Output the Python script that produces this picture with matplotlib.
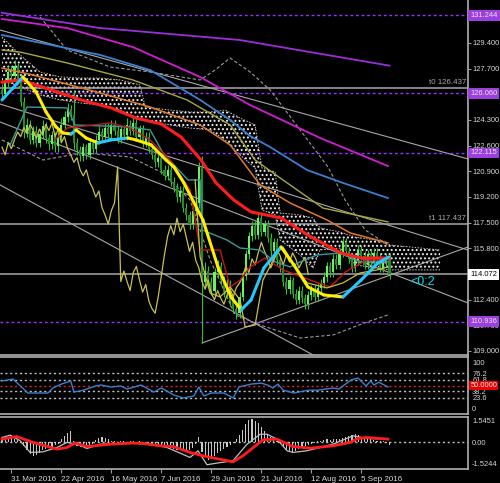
import numpy as np
import matplotlib
matplotlib.use('Agg')
import matplotlib.pyplot as plt
import matplotlib.transforms as mtransforms

plt.rcParams['font.family'] = ['Liberation Sans', 'DejaVu Sans']
plt.rcParams['hatch.color'] = '#f0f0f0'
plt.rcParams['hatch.linewidth'] = 0.9

# daily EURJPY candles (bar index 0..124), open = previous close
first_open = 126.3
close = [126.0, 126.8, 127.5, 127.2, 127.9, 127.0,
         125.5, 123.5, 124.0, 123.0,
         123.6, 122.8, 123.4, 123.9, 123.1, 122.7, 123.3, 122.6, 123.2, 124.0,
         124.5, 125.0, 124.6,
         122.8,
         122.3, 121.9, 122.5, 122.0, 122.8, 122.4, 123.0,
         123.5, 123.2, 123.8, 123.4, 124.0, 123.6, 123.1, 123.7, 123.3, 124.0,
         123.6, 124.1, 123.2, 123.7, 122.8, 123.2, 122.4,
         122.0, 121.5, 121.8, 121.0, 120.6, 121.0, 120.2,
         119.8, 119.2, 119.6, 118.5, 118.0, 117.4, 118.3, 118.8,
         121.2, 113.6,
         114.3, 113.6, 113.0, 114.2, 114.6, 113.7, 112.9, 113.4, 112.3, 111.8, 111.5,
         112.6, 114.0, 115.4,
         116.6, 117.3, 116.7, 117.8, 116.9, 117.4, 116.5,
         115.6, 116.2, 115.0, 114.5,
         113.6, 113.1, 113.7, 112.8, 112.4, 113.0, 112.5, 112.1, 112.7, 113.1, 112.6, 113.2, 113.5,
         113.9, 114.6, 114.2, 115.1, 114.7, 115.5, 116.2, 115.6,
         115.1, 114.5, 115.0, 115.7, 115.3, 114.7, 115.4, 114.9, 115.5, 115.1, 114.5, 114.9, 115.2, 114.072]
high = [126.7, 127.1, 127.9, 127.8, 128.3, 128.1,
        127.3, 125.8, 124.4, 124.3,
        123.9, 123.9, 123.7, 124.3, 124.2, 123.4, 123.6, 123.5, 123.5, 124.4,
        124.9, 125.4, 125.3,
        126.3,
        123.1, 122.6, 122.8, 122.7, 123.1, 123.0, 123.3,
        123.9, 123.8, 124.1, 124.1, 124.3, 124.3, 123.9, 124.0, 124.0, 124.4,
        124.3, 124.5, 124.4, 124.0, 124.0, 123.5, 123.5,
        122.7, 122.3, 122.1, 122.1, 121.3, 121.3, 121.3,
        120.5, 120.1, 119.9, 119.9, 118.8, 118.3, 118.6, 119.1,
        121.5, 121.9,
        114.9, 114.6, 113.9, 114.5, 115.0, 114.9, 114.0, 113.8, 113.7, 112.7, 112.1,
        112.9, 114.3, 115.7,
        116.9, 117.6, 117.6, 118.1, 118.2, 117.7, 117.7,
        116.8, 116.5, 116.5, 115.3,
        114.8, 113.9, 114.0, 113.9, 113.1, 113.3, 113.3, 112.8, 113.0, 113.4, 113.4, 113.5, 113.8,
        114.2, 114.9, 114.9, 115.4, 115.4, 115.8, 116.5, 116.5,
        115.9, 115.4, 115.3, 116.0, 116.0, 115.6, 115.7, 115.7, 115.8, 115.8, 115.4, 115.2, 115.5, 115.4]
low = [125.7, 125.8, 126.5, 126.9, 126.9, 126.7,
       125.2, 123.1, 123.2, 122.7,
       122.7, 122.5, 122.5, 123.1, 122.8, 122.3, 122.4, 122.2, 122.2, 122.9,
       123.7, 124.2, 124.3,
       122.4,
       122.0, 121.6, 121.6, 121.7, 121.7, 122.1, 122.1,
       122.7, 122.9, 122.9, 123.1, 123.1, 123.3, 122.8, 122.8, 123.0, 123.0,
       123.3, 123.3, 122.9, 122.9, 122.5, 122.5, 122.1,
       121.7, 121.2, 121.2, 120.7, 120.3, 120.3, 119.9,
       119.5, 118.9, 118.9, 118.2, 117.7, 117.1, 117.1, 118.0,
       118.5, 109.5,
       113.2, 113.3, 112.7, 112.7, 113.9, 113.4, 112.6, 112.6, 112.0, 111.5, 111.1,
       111.2, 112.3, 113.7,
       115.1, 116.3, 116.4, 116.4, 116.6, 116.6, 116.2,
       115.3, 115.3, 114.7, 114.2,
       113.3, 112.8, 112.8, 112.5, 112.1, 112.1, 112.2, 111.8, 111.8, 112.4, 112.3, 112.3, 112.9,
       113.2, 113.6, 113.9, 113.9, 114.4, 114.4, 115.2, 115.3,
       114.8, 114.2, 114.2, 114.7, 115.0, 114.4, 114.4, 114.6, 114.6, 114.8, 114.2, 114.2, 114.6, 113.8]

date_pos = [3, 19, 35, 51, 67, 83, 99, 115]
date_lbl = ['31 Mar 2016', '22 Apr 2016', '16 May 2016', '7 Jun 2016',
            '29 Jun 2016', '21 Jul 2016', '12 Aug 2016', '5 Sep 2016']

# indicator lines as (bar, price) vertices
purple_x = [0, 31, 76, 124]
purple_y = [131.4, 130.4, 129.6, 127.9]
magenta_x = [0, 20.8, 41.9, 63.4, 79.4, 101.8, 123.5]
magenta_y = [130.99, 130.39, 129.13, 127.15, 125.29, 123.11, 121.25]
blue_x = [0, 31.4, 47.4, 63.4, 73, 79.4, 85.8, 97.6, 109.1, 123.5]
blue_y = [129.93, 128.61, 127.61, 125.63, 124.30, 123.24, 122.51, 120.99, 120.13, 119.13]
olive_x = [0, 5.8, 20.8, 41.9, 59.2, 73, 81, 89, 102.7, 123.5]
olive_y = [128.94, 128.80, 128.08, 126.95, 125.63, 123.97, 121.65, 120.46, 118.47, 117.55]
orange_x = [0, 9.9, 31.4, 47.4, 63.4, 73, 82.6, 92.2, 104, 111.4, 123.5]
orange_y = [127.74, 127.28, 126.09, 125.16, 123.97, 122.65, 120.00, 118.80, 117.68, 116.82, 116.16]
red_x = [0, 6.1, 15.7, 25.3, 34.9, 42.9, 50.9, 57.3, 63.7, 68.5, 74.2, 79.7, 89.3, 98.9, 108.5, 114.9, 123.8]
red_y = [126.82, 126.95, 126.29, 125.63, 125.10, 124.43, 124.04, 123.17, 121.65, 120.13, 119.00,
         118.21, 117.81, 116.55, 115.49, 115.16, 115.16]
fast_x = [0, 3.5, 6.7, 10.9, 14.1, 17.3, 19.5, 22.1, 23.7, 26.9, 30.7, 34.9, 40.3, 42.9, 47.7,
          52.5, 55.0, 58.2, 64.3, 69.1, 73.3, 76.5, 79.7, 83.8, 89.3, 93.4, 97.9, 103.0, 109.1,
          114.9, 120.3, 123.8]
fast_y = [125.63, 126.42, 127.15, 126.16, 124.83, 123.84, 123.44, 123.37, 123.64, 123.11, 122.78,
          122.98, 123.11, 122.98, 122.65, 121.65, 121.19, 120.13, 117.68, 114.57, 112.58, 111.72,
          112.38, 114.50, 115.89, 114.70, 113.24, 112.71, 112.58, 113.70, 114.83, 115.23]
kijun_x = [17, 20.8, 34.6, 41, 47.4, 53.8, 60.2, 63.4, 69.8, 73, 76.2, 79.4, 84.2, 89.9, 98.6,
           105, 109.8, 116.8, 123.5]
kijun_y = [122.98, 123.77, 124.10, 123.77, 122.98, 121.65, 119.66, 115.69, 115.69, 113.24, 113.70,
           114.57, 115.16, 114.37, 113.70, 113.24, 114.23, 115.03, 115.03]
teal_x = [2.6, 8, 20.8, 23.4, 41, 47.4, 51.5, 59.5, 63.4, 64, 72, 76.2, 82.6, 87.4, 92.2, 95.4,
          100.8, 108.2, 114.6, 123.5]
teal_y = [122.65, 125.16, 125.10, 123.97, 123.84, 123.64, 122.12, 120.33, 120.33, 117.02, 116.35,
          115.82, 115.69, 114.90, 114.57, 114.90, 115.36, 115.49, 114.90, 114.90]
khaki_x = [61.8, 63.4, 66.6, 69.8, 73, 76.2, 77.8, 81, 83.5, 88, 89.9, 93.1, 97.6, 104, 109.1,
           114.6, 120, 123.5]
khaki_y = [120.33, 115.23, 112.84, 112.58, 113.24, 112.38, 110.59, 110.72, 113.70, 115.49, 115.89,
           114.83, 113.51, 113.18, 113.51, 114.17, 114.37, 114.57]
bbup_x = [12.2, 20.8, 34.6, 47.4, 63.4, 68.2, 73, 79.4, 85.8, 95.4, 104.3, 109.8, 116.2, 123.5]
bbup_y = [131.12, 128.94, 127.81, 127.48, 126.95, 127.61, 128.41, 127.48, 126.29, 123.64, 121.19,
          119.0, 117.02, 116.02]
bblo_x = [0, 13.1, 25.9, 41, 51.5, 60.2, 66.6, 74.6, 82.6, 95.4, 105.9, 116.8, 123.5]
bblo_y = [122.98, 121.65, 122.12, 121.85, 120.79, 119.0, 115.03, 111.39, 110.72, 109.86, 110.06,
          110.92, 111.39]

# ichimoku cloud (extends into the future)
cloud_x = [0, 2.6, 5.8, 12.2, 18.6, 25, 31.4, 37.8, 44.2, 45.8, 53.8, 60.2, 66.6, 71.4, 76.2, 81,
           83.2, 87.4, 89, 95.4, 99.5, 101.8, 108.2, 113, 119.4, 124.2, 130.6, 140.2]
cloud_top = [129.80, 129.27, 128.61, 127.48, 127.15, 127.08, 127.08, 126.95, 126.62, 125.16,
             124.96, 124.83, 124.83, 124.96, 124.43, 123.97, 121.12, 120.86, 118.14, 118.01,
             117.81, 117.15, 116.88, 116.55, 116.35, 116.02, 115.89, 115.69]
cloud_bot = [126.75, 126.75, 126.49, 125.96, 125.63, 125.43, 125.29, 124.96, 124.30, 124.30,
             123.97, 123.77, 123.64, 122.98, 121.98, 121.12, 118.34, 118.01, 116.35, 115.36,
             114.50, 115.69, 115.82, 114.70, 114.50, 114.37, 114.37, 114.37]

# trend lines (start bar, start price, end bar, end price)
trend_lines = [(-0.64, 130.26, 149.12, 121.72),
               (-0.64, 125.36, 149.12, 115.69),
               (-0.64, 124.17, 149.12, 112.18),
               (-0.64, 120.00, 99.5, 108.74),
               (64.0, 109.53, 149.12, 115.89)]

level_lines = [131.244, 126.060, 122.115, 110.936]
t0_level = 126.437
t1_level = 117.437
last_price = 114.072

rsi_x = [0, 3.5, 8.3, 14.7, 16.3, 19, 22, 23, 26, 30, 31.7, 34.9, 38, 40, 44.5, 48.6, 51, 55, 58,
         61.4, 63, 64.6, 67, 71, 74, 75.8, 79.7, 82.9, 85, 86.7, 88.3, 90, 93.4, 98, 101, 106,
         107.8, 111.7, 113.9, 116.5, 118, 119, 120.6, 123.5]
rsi_y = [59.6, 63.8, 34, 34, 44.7, 53, 59.6, 36, 40, 49, 51, 46.8, 49, 42.5, 51, 36, 44.7, 29.8,
         23.4, 27.7, 46.8, 27.7, 34, 34, 23.4, 46.8, 53, 55, 51, 44.7, 53, 40, 34, 40, 40, 44.7,
         42.5, 61.7, 66, 49, 59.6, 51, 57, 46.8]
rsi_levels = [76.2, 61.8, 38.2, 23.6]

macd_hist = [0.15, 0.2, 0.25, 0.3, 0.25, 0.15, 0.0, -0.3, -0.6, -0.85,
             -1.0, -0.95, -0.8, -0.6, -0.5, -0.45, -0.35, -0.2, -0.1, 0.2,
             0.45, 0.7, 0.8, 0.1, -0.25, -0.35, -0.3, -0.3, -0.2, -0.1,
             0.15, 0.3, 0.35, 0.3, 0.2, 0.1, 0.05, -0.05, 0.05, 0.1,
             -0.05, 0.05, 0.1, -0.05, 0.05, -0.1, -0.15, -0.2, -0.3, -0.25,
             -0.3, -0.2, -0.25, -0.35, -0.45, -0.5, -0.55, -0.6, -0.65, -0.6,
             -0.55, -0.4, -0.1, 0.4, -0.7, -1.1, -1.3, -1.2, -1.0, -0.8,
             -0.65, -0.5, -0.35, -0.2, -0.05, 0.2, 0.5, 0.9, 1.3, 1.6,
             1.7, 1.55, 1.4, 1.1, 0.85, 0.55, 0.35, 0.2, 0.05, -0.15,
             -0.35, -0.55, -0.7, -0.75, -0.65, -0.5, -0.4, -0.3, -0.2, -0.1,
             -0.05, 0.05, 0.1, 0.15, 0.2, 0.15, 0.2, 0.25, 0.2, 0.3,
             0.35, 0.45, 0.55, 0.6, 0.5, 0.4, 0.3, 0.25, 0.2, 0.15,
             0.1, 0.05, 0.05, -0.05, -0.2]
macd_sig_x = [0, 2.6, 5.8, 9, 13.1, 17.6, 20.8, 24, 27.2, 31.4, 41.9, 47.4, 52.8, 60.2, 62.7, 65.6,
              68.8, 73.9, 78.4, 82.6, 84.8, 88, 91.2, 93.1, 97.6, 101.8, 105.9, 112.3, 116.8, 123.5]
macd_sig_y = [0.34, 0.51, 0.1, -0.75, -0.71, -0.39, -0.02, -0.15, -0.46, -0.15, -0.07, -0.15, -0.39,
              -1.12, -0.63, -1.65, -1.53, -1.36, -0.15, 0.58, 0.58, 0.22, -0.63, -0.75, -0.63, -0.39,
              -0.15, 0.46, 0.27, 0.22]
macd_red_x = [0, 4.7, 9.9, 17.6, 20.8, 23.4, 27.2, 34.6, 41.9, 45.1, 50.6, 54.7, 60.2, 64.3, 73.9,
              77.1, 83.5, 88, 93.1, 98.6, 105.9, 111.4, 113.9, 116.8, 123.5]
macd_red_y = [0.22, 0.41, -0.02, -0.51, -0.39, -0.07, -0.32, -0.15, -0.07, -0.1, -0.27, -0.32,
              -0.75, -1.0, -1.44, -1.0, 0.17, 0.22, -0.32, -0.44, -0.27, -0.02, 0.27, 0.34, 0.22]

W, H = 500, 483
XL = (-0.64, 149.12)
TXT = '#d8d8d8'
GRID = '#9a9a9a'
FS = 5.4

fig = plt.figure(figsize=(W / 100, H / 100), dpi=100, facecolor='black')
ax = fig.add_axes([0, 1 - 355 / H, 468 / W, 355 / H])
ax_rsi = fig.add_axes([0, 1 - 414 / H, 468 / W, 57 / H], sharex=ax)
ax_macd = fig.add_axes([0, 1 - 469 / H, 468 / W, 52 / H], sharex=ax)

for a in (ax, ax_rsi, ax_macd):
    a.set_facecolor('black')
    a.yaxis.tick_right()
    a.tick_params(axis='y', colors=GRID, labelcolor=TXT, labelsize=FS, length=2.5, pad=1.0, width=0.8)
    a.tick_params(axis='x', colors=GRID, labelcolor=TXT, labelsize=FS, length=3, pad=2, width=0.8)
    a.spines['left'].set_visible(False)
    for s in ('top', 'bottom', 'right'):
        a.spines[s].set_color('#b0b0b0')
        a.spines[s].set_linewidth(1.2)
ax.spines['top'].set_visible(False)
ax.set_xlim(*XL)

# ---------------- main panel ----------------
ax.set_ylim(108.735, 132.248)
yt = [109.0 + 1.7 * k for k in range(14)]
ax.set_yticks(yt)
# labels fully hidden under the level boxes are left blank
hidden = {'114.100', '126.000', '131.100'}
ax.set_yticklabels(['' if ('%.3f' % v) in hidden else '%.3f' % v for v in yt])
ax.tick_params(axis='x', bottom=False, labelbottom=False)
ax_rsi.tick_params(axis='x', bottom=False, labelbottom=False)

ax.fill_between(cloud_x, cloud_top, cloud_bot, facecolor='none', edgecolor='#f0f0f0',
                hatch='....', linewidth=0, zorder=1)
ax.plot(cloud_x, cloud_top, color='#c8b8a8', lw=0.7, ls=(0, (1.5, 1.5)), zorder=1)
ax.plot(cloud_x, cloud_bot, color='#d0c0d0', lw=0.7, ls=(0, (1.5, 1.5)), zorder=1)

for x0, y0, x1, y1 in trend_lines:
    ax.plot([x0, x1], [y0, y1], color='#a8a8a8', lw=0.8, zorder=2)

for lv in level_lines:
    ax.axhline(lv, color='#9933ff', lw=1, ls=(0, (2, 2)), zorder=2)
ax.axhline(t0_level, color='#a8a8a8', lw=1.1, zorder=2)
ax.axhline(t1_level, color='#a8a8a8', lw=1.1, zorder=2)
ax.axhline(last_price, color='#a8a8a8', lw=1.1, zorder=2)
ax.text(148.5, t0_level + 0.12, 't0 126.437', color='#a8a8a8', fontsize=FS + 0.3, ha='right', va='bottom')
ax.text(148.5, t1_level + 0.12, 't1 117.437', color='#a8a8a8', fontsize=FS + 0.3, ha='right', va='bottom')

ax.plot(bbup_x, bbup_y, color='#9a9a9a', lw=0.8, ls=(0, (3, 2)), zorder=2)
ax.plot(bblo_x, bblo_y, color='#9a9a9a', lw=0.8, ls=(0, (3, 2)), zorder=2)

# candles
idx = np.arange(len(close))
opn = [first_open] + close[:-1]
for i in idx:
    o, c = opn[i], close[i]
    ax.vlines(i, low[i], high[i], color='#33c033', lw=0.8, zorder=3)
    col = '#6af060' if c >= o else '#2a8a2a'
    ax.bar(i, max(abs(c - o), 0.06), bottom=min(o, c), width=0.65, color=col,
           edgecolor='none', zorder=3)

# chikou span: closes shifted back 26 bars
ax.plot(idx[:-26], close[26:], color='#c8c050', lw=0.9, zorder=4)

ax.plot(purple_x, purple_y, color='#9a2fd8', lw=1.3, zorder=4)
ax.plot(magenta_x, magenta_y, color='#d21cd2', lw=1.3, zorder=4)
ax.plot(blue_x, blue_y, color='#3a7fd0', lw=1.3, zorder=4)
ax.plot(olive_x, olive_y, color='#a8a840', lw=1.0, zorder=4)
ax.plot(orange_x, orange_y, color='#e07a28', lw=1.1, zorder=4)
ax.plot(teal_x, teal_y, color='#3a9a9a', lw=1.0, zorder=4)
ax.plot(kijun_x, kijun_y, color='#c01818', lw=1.0, zorder=4)
ax.plot(khaki_x, khaki_y, color='#c8c040', lw=0.9, zorder=4)
ax.plot(red_x, red_y, color='#ff1c1c', lw=2.2, zorder=5)
for k in range(len(fast_x) - 1):
    col = '#22c8ff' if fast_y[k + 1] > fast_y[k] else '#ffee00'
    ax.plot(fast_x[k:k + 2], fast_y[k:k + 2], color=col, lw=2.2, zorder=5,
            solid_capstyle='round')

ax.text(130.6, 113.57, '<0:2', color='#00e0f0', fontsize=9, va='center', ha='left')

blend = mtransforms.blended_transform_factory(ax.transAxes, ax.transData)
for lv in level_lines:
    ax.text(1.005, lv, '%.3f' % lv, transform=blend, color='#e8e8e8', fontsize=FS,
            ha='left', va='center', zorder=10,
            bbox=dict(boxstyle='square,pad=0.25', fc='#9c3ee0', ec='none'))
ax.text(1.005, last_price, '%.3f' % last_price, transform=blend, color='black', fontsize=FS,
        ha='left', va='center', zorder=10,
        bbox=dict(boxstyle='square,pad=0.25', fc='white', ec='none'))

# ---------------- RSI panel ----------------
ax_rsi.set_ylim(-10.64, 110.64)
ax_rsi.set_yticks([100, 76.2, 61.8, 38.2, 23.6, 0])
ax_rsi.set_yticklabels(['100', '76.2', '61.8', '38.2', '23.6', '0'])
ax_rsi.tick_params(axis='y', length=0, pad=3)
for lv in rsi_levels:
    ax_rsi.axhline(lv, color='#c0c0c0', lw=1, ls=(0, (1.5, 2)))
ax_rsi.axhline(50, color='#e02020', lw=1, ls=(0, (1.5, 2)))
ax_rsi.plot(rsi_x, rsi_y, color='#3a7fd0', lw=1.0)
blend_r = mtransforms.blended_transform_factory(ax_rsi.transAxes, ax_rsi.transData)
ax_rsi.text(1.005, 50, '50.0000', transform=blend_r, color='#f0f0f0', fontsize=FS,
            ha='left', va='center', zorder=10,
            bbox=dict(boxstyle='square,pad=0.15', fc='#ee0000', ec='none'))

# ---------------- MACD panel ----------------
ax_macd.set_ylim(-1.962, 1.837)
ax_macd.set_yticks([1.5451, 0.0, -1.5244])
ax_macd.set_yticklabels(['1.5451', '0.00', '-1.5244'])
ax_macd.tick_params(axis='y', length=0, pad=3)
ax_macd.axhline(0, color='#c0c0c0', lw=1, ls=(0, (1.5, 2)))
ax_macd.bar(idx, macd_hist, width=0.35, color='#c8c8c8', zorder=2)
ax_macd.plot(macd_sig_x, macd_sig_y, color='#c0c0c0', lw=0.9, zorder=3)
ax_macd.plot(macd_red_x, macd_red_y, color='#ff1c1c', lw=2.0, zorder=4)
ax_macd.set_xticks(date_pos)
ax_macd.set_xticklabels(date_lbl)
for lab in ax_macd.get_xticklabels():
    lab.set_ha('left')
    lab.set_fontsize(FS + 0.4)

fig.savefig('out.png', dpi=100, facecolor='black')
